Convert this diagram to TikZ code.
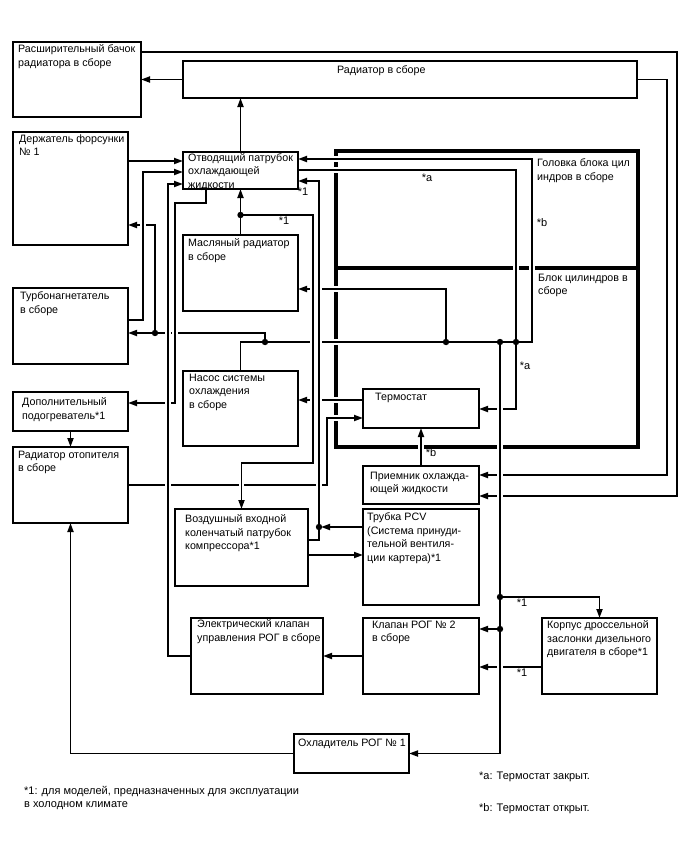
\documentclass[tikz,border=0pt]{standalone}
\usepackage{fontspec}
\setmainfont{Liberation Sans}
\usetikzlibrary{arrows.meta,positioning}
\pgfdeclarelayer{walls}
\pgfdeclarelayer{front}
\pgfsetlayers{walls,main,front}

\begin{document}
\begin{tikzpicture}[
    x=1pt, y=-1pt,
    blk/.style={draw, line width=1.9pt, anchor=north west, inner sep=0pt, outer sep=0pt},
    wall/.style={draw, line width=4pt, anchor=north west, inner sep=0pt, outer sep=0pt},
    txt/.style={anchor=north west, align=left, inner sep=0pt, font=\fontsize{10.7}{13.5}\selectfont},
    note/.style={inner sep=0pt, font=\fontsize{11}{12}\selectfont},
    arr/.style={-{Triangle[length=9pt,width=6pt]}, line width=1.8pt, preaction={draw=white, line width=5.5pt, -}}
  ]
  \useasboundingbox (0,0) rectangle (688,852);

  % engine block
  \begin{pgfonlayer}{walls}
    \node[wall, minimum width=302pt, minimum height=117pt, label={[txt, xshift=201pt, yshift=-7.5pt]north west:Головка блока цил\\индров в сборе}] (head) at (336,151) {};
    \node[wall, minimum width=302pt, minimum height=179pt, label={[txt, xshift=202pt, yshift=-5.5pt]north west:Блок цилиндров в\\сборе}] (cyl) at (336,268) {};
  \end{pgfonlayer}

  \begin{pgfonlayer}{front}
    \node[blk, minimum width=128pt, minimum height=75pt, label={[txt, xshift=5pt, yshift=-2.5pt]north west:Расширительный бачок\\радиатора в сборе}] (tank) at (13,42) {};
    \node[blk, minimum width=454pt, minimum height=37pt, label={[txt, xshift=154pt, yshift=-4.5pt]north west:Радиатор в сборе}] (rad) at (183,61) {};
    \node[blk, minimum width=115pt, minimum height=113pt, label={[txt, xshift=6pt, yshift=-2.5pt]north west:Держатель форсунки\\№ 1}] (inj) at (13,132) {};
    \node[blk, minimum width=115pt, minimum height=37pt, label={[txt, xshift=5pt, yshift=-1pt]north west:Отводящий патрубок\\охлаждающей\\жидкости}] (outl) at (183,152) {};
    \node[blk, minimum width=115pt, minimum height=76pt, label={[txt, xshift=5pt, yshift=-3.5pt]north west:Масляный радиатор\\в сборе}] (oilc) at (183,235) {};
    \node[blk, minimum width=115pt, minimum height=76pt, label={[txt, xshift=7pt, yshift=-3.5pt]north west:Турбонагнетатель\\в сборе}] (turbo) at (13,288) {};
    \node[blk, minimum width=115pt, minimum height=75pt, label={[txt, xshift=6pt, yshift=-2.5pt]north west:Насос системы\\охлаждения\\в сборе}] (pump) at (183,371) {};
    \node[blk, minimum width=115pt, minimum height=39pt, label={[txt, xshift=9pt, yshift=-5.5pt]north west:Дополнительный\\подогреватель*1}] (aux) at (13,392) {};
    \node[blk, minimum width=115pt, minimum height=76pt, label={[txt, xshift=5pt, yshift=-3.5pt]north west:Радиатор отопителя\\в сборе}] (heat) at (13,447) {};
    \node[blk, minimum width=116pt, minimum height=39pt, label={[txt, xshift=12pt, yshift=-3.5pt]north west:Термостат}] (thst) at (363,389) {};
    \node[blk, minimum width=116pt, minimum height=38pt, label={[txt, xshift=7pt, yshift=-5.5pt]north west:Приемник охлажда-\\ющей жидкости}] (recv) at (363,466) {};
    \node[blk, minimum width=116pt, minimum height=96pt, label={[txt, xshift=4pt, yshift=-3.5pt]north west:Трубка PCV\\(Система принуди-\\тельной вентиля-\\ции картера)*1}] (pcv) at (363,509) {};
    \node[blk, minimum width=133pt, minimum height=77pt, label={[txt, xshift=10pt, yshift=-5.5pt]north west:Воздушный входной\\коленчатый патрубок\\компрессора*1}] (airin) at (175,509) {};
    \node[blk, minimum width=132pt, minimum height=76pt, label={[txt, xshift=6pt, yshift=-1.5pt]north west:Электрический клапан\\управления РОГ в сборе}] (egrv) at (191,618) {};
    \node[blk, minimum width=116pt, minimum height=76pt, label={[txt, xshift=9pt, yshift=-2.5pt]north west:Клапан РОГ № 2\\в сборе}] (egr2) at (363,618) {};
    \node[blk, minimum width=115pt, minimum height=76pt, label={[txt, xshift=5pt, yshift=-2.5pt]north west:Корпус дроссельной\\заслонки дизельного\\двигателя в сборе*1}] (thr) at (542,618) {};
    \node[blk, minimum width=115pt, minimum height=39pt, label={[txt, xshift=4pt, yshift=-4.5pt]north west:Охладитель РОГ № 1}] (egrc) at (294,734) {};
  \end{pgfonlayer}

  % junctions
  \coordinate (jt) at (155,333);
  \coordinate (jp) at (265,342);
  \coordinate (jm) at (240.5,215);
  \coordinate (jo) at (446,342);
  \coordinate (je) at (500,342);
  \coordinate (ja) at (516,342);
  \coordinate (jv) at (319,527);
  \coordinate (jd) at (500,597);
  \coordinate (jk) at (500,629);

  % turbo, injector holder
  \draw[arr] (jp) |- (turbo.east |- 0,333);
  \draw[arr] (jt) |- (inj.east |- 0,225);
  % heater radiator -> thermostat
  \draw[arr] (heat.east |- 0,485) -| (327,418) -- (thst.west |- 0,418);
  % pump -> block -> head -> outlet
  \draw[arr] (pump.north) |- (532,342) -- (532,159) -- (outl.east |- 0,159);
  \draw[arr] (outl.east |- 0,170) -| (ja) |- (thst.east |- 0,409);
  \draw[arr] (jo) |- (oilc.east |- 0,289);
  \draw[arr] (oilc.north) -- (outl.south);
  \draw[arr] (thst.west |- 0,400) -- (pump.east |- 0,400);
  \draw[arr] (recv.north) -- (thst.south);
  % radiator, tank
  \draw[arr] (tank.east |- 0,52) -| (677,496) -- (recv.east |- 0,496);
  \draw[arr] (rad.east) -| (667,475) -- (recv.east |- 0,475);
  \draw[arr] (rad.west) -- (rad.west -| tank.east);
  \draw[arr] (outl.north) -- (outl.north |- rad.south);
  \draw[arr] (inj.east |- 0,161) -- (outl.west |- 0,161);
  \draw[arr] (turbo.east |- 0,320) -| (143,172) -- (outl.west |- 0,172);
  % EGR
  \draw[arr] (thr.west |- 0,667) -- (egr2.east |- 0,667);
  \draw[arr] (egr2.west) -- (egrv.east);
  \draw[arr] (je) |- (egrc.east);
  \draw[arr] (jd) -| (thr.north);
  \draw[arr] (jk) -- (egr2.east |- jk);
  \draw[arr] (egrc.west) -| (heat.south);
  \draw[arr] (aux.south) -- (heat.north);
  % outlet -> aux heater, EGR valve -> outlet
  \draw[arr] (outl.south -| 206,0) -- (206,203) -| (175,403) -- (aux.east |- 0,403);
  \draw[arr] (egrv.west) -| (168,184) -- (outl.west |- 0,184);
  % compressor inlet, PCV
  \draw[arr] (jm) -| (313,463) -| (airin.north);
  \draw[arr] (airin.east |- 0,540) -| (319,181) -- (outl.east |- 0,181);
  \draw[arr, shorten >=2pt] (pcv.west |- jv) -- (jv);
  \draw[arr] (airin.east |- 0,555) -- (pcv.west |- 0,555);

  \begin{pgfonlayer}{front}
    \foreach \j in {jt,jp,jm,jo,je,ja,jv,jd,jk}
      \fill (\j) circle (3.2pt);
    \node[note] (na1) at (427,178) {*a};
    \node[note] (nb1) at (542,223) {*b};
    \node[note] (n11) at (303,192) {*1};
    \node[note] (n12) at (284,221) {*1};
    \node[note] (na2) at (525,366) {*a};
    \node[note] (nb2) at (431,453) {*b};
    \node[note] (n13) at (522,603) {*1};
    \node[note] (n14) at (522,673) {*1};
  \end{pgfonlayer}

  % footnotes
  \node[txt, font=\fontsize{11}{13.5}\selectfont] (fn1) at (24,786) {*1: для моделей, предназначенных для эксплуатации\\в холодном климате};
  \node[txt, font=\fontsize{11}{13.5}\selectfont] (fna) at (479,772) {*a: Термостат закрыт.};
  \node[txt, font=\fontsize{11}{13.5}\selectfont] (fnb) at (479,803) {*b: Термостат открыт.};
\end{tikzpicture}
\end{document}
